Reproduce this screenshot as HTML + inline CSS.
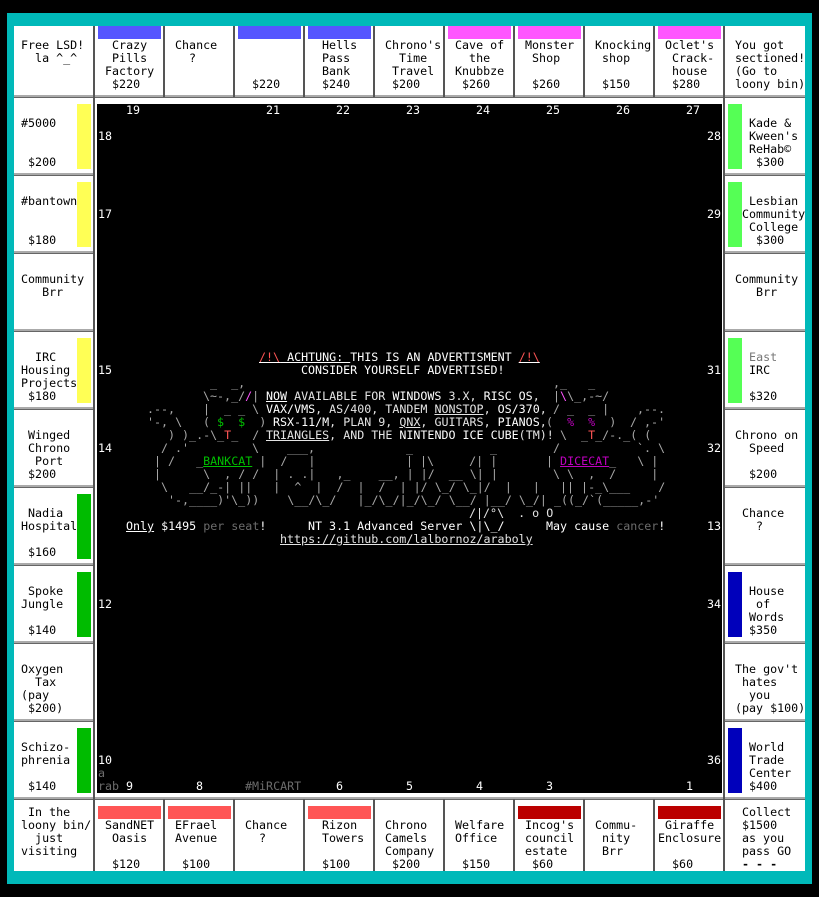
<!DOCTYPE html>
<html><head><meta charset="utf-8"><style>
body{margin:0;background:#000;width:819px;height:897px;position:relative;overflow:hidden}
.a{position:absolute}
.t{position:absolute;white-space:pre;font-family:"DejaVu Sans Mono","Liberation Mono",monospace;font-size:11.67px;line-height:13px;color:#000}
.w{color:#fff}.g{color:#a8a8a8}.d{color:#6c6c6c}.l{color:#e4e4e4}
.r{color:#ff5555}.m{color:#ff55ff}.gr{color:#00c000}.mg{color:#c000c0}.mr{color:#ff5555}
u{text-decoration:underline}
.vl{position:absolute;width:2px;background:#555}
.hl{position:absolute;height:2px;background:#aaa;border-bottom:1px solid #666}
</style></head><body>
<div class="a" style="left:7px;top:13px;width:805px;height:871px;background:#00b9b9"></div>
<div class="a" style="left:14px;top:26px;width:791px;height:845px;background:#fff"></div>
<div class="a" style="left:97px;top:104px;width:625px;height:689px;background:#000"></div>

<div class="hl" style="left:14px;top:95px;width:791px"></div>
<div class="hl" style="left:14px;top:797px;width:791px"></div>
<div class="hl" style="left:14px;top:173px;width:80px"></div>
<div class="hl" style="left:14px;top:251px;width:80px"></div>
<div class="hl" style="left:14px;top:329px;width:80px"></div>
<div class="hl" style="left:14px;top:407px;width:80px"></div>
<div class="hl" style="left:14px;top:485px;width:80px"></div>
<div class="hl" style="left:14px;top:563px;width:80px"></div>
<div class="hl" style="left:14px;top:641px;width:80px"></div>
<div class="hl" style="left:14px;top:719px;width:80px"></div>
<div class="hl" style="left:724px;top:173px;width:81px"></div>
<div class="hl" style="left:724px;top:251px;width:81px"></div>
<div class="hl" style="left:724px;top:329px;width:81px"></div>
<div class="hl" style="left:724px;top:407px;width:81px"></div>
<div class="hl" style="left:724px;top:485px;width:81px"></div>
<div class="hl" style="left:724px;top:563px;width:81px"></div>
<div class="hl" style="left:724px;top:641px;width:81px"></div>
<div class="hl" style="left:724px;top:719px;width:81px"></div>
<div class="vl" style="left:93px;top:26px;height:845px"></div>
<div class="vl" style="left:723px;top:26px;height:845px"></div>
<div class="vl" style="left:163px;top:26px;height:71px"></div>
<div class="vl" style="left:233px;top:26px;height:71px"></div>
<div class="vl" style="left:303px;top:26px;height:71px"></div>
<div class="vl" style="left:373px;top:26px;height:71px"></div>
<div class="vl" style="left:443px;top:26px;height:71px"></div>
<div class="vl" style="left:513px;top:26px;height:71px"></div>
<div class="vl" style="left:583px;top:26px;height:71px"></div>
<div class="vl" style="left:653px;top:26px;height:71px"></div>
<div class="vl" style="left:163px;top:799px;height:72px"></div>
<div class="vl" style="left:233px;top:799px;height:72px"></div>
<div class="vl" style="left:303px;top:799px;height:72px"></div>
<div class="vl" style="left:373px;top:799px;height:72px"></div>
<div class="vl" style="left:443px;top:799px;height:72px"></div>
<div class="vl" style="left:513px;top:799px;height:72px"></div>
<div class="vl" style="left:583px;top:799px;height:72px"></div>
<div class="vl" style="left:653px;top:799px;height:72px"></div>

<div class="a" style="left:98px;top:26px;width:63px;height:13px;background:#5555ff"></div>
<div class="a" style="left:238px;top:26px;width:63px;height:13px;background:#5555ff"></div>
<div class="a" style="left:308px;top:26px;width:63px;height:13px;background:#5555ff"></div>
<div class="a" style="left:448px;top:26px;width:63px;height:13px;background:#ff55ff"></div>
<div class="a" style="left:518px;top:26px;width:63px;height:13px;background:#ff55ff"></div>
<div class="a" style="left:658px;top:26px;width:63px;height:13px;background:#ff55ff"></div>
<div class="a" style="left:98px;top:806px;width:63px;height:13px;background:#ff5555"></div>
<div class="a" style="left:168px;top:806px;width:63px;height:13px;background:#ff5555"></div>
<div class="a" style="left:308px;top:806px;width:63px;height:13px;background:#ff5555"></div>
<div class="a" style="left:518px;top:806px;width:63px;height:13px;background:#bb0000"></div>
<div class="a" style="left:658px;top:806px;width:63px;height:13px;background:#bb0000"></div>
<div class="a" style="left:77px;top:104px;width:14px;height:65px;background:#ffff55"></div>
<div class="a" style="left:77px;top:182px;width:14px;height:65px;background:#ffff55"></div>
<div class="a" style="left:77px;top:338px;width:14px;height:65px;background:#ffff55"></div>
<div class="a" style="left:77px;top:494px;width:14px;height:65px;background:#00bb00"></div>
<div class="a" style="left:77px;top:572px;width:14px;height:65px;background:#00bb00"></div>
<div class="a" style="left:77px;top:728px;width:14px;height:65px;background:#00bb00"></div>
<div class="a" style="left:728px;top:104px;width:14px;height:65px;background:#55ff55"></div>
<div class="a" style="left:728px;top:182px;width:14px;height:65px;background:#55ff55"></div>
<div class="a" style="left:728px;top:338px;width:14px;height:65px;background:#55ff55"></div>
<div class="a" style="left:728px;top:572px;width:14px;height:65px;background:#0000bb"></div>
<div class="a" style="left:728px;top:728px;width:14px;height:65px;background:#0000bb"></div>

<div class="t" style="left:14px;top:39px"> Free LSD!
   la ^_^</div>
<div class="t" style="left:98px;top:39px">  Crazy
  Pills
 Factory
  $220</div>
<div class="t" style="left:168px;top:39px"> Chance
   ?</div>
<div class="t" style="left:238px;top:39px">


  $220</div>
<div class="t" style="left:308px;top:39px">  Hells
  Pass
  Bank
  $240</div>
<div class="t" style="left:378px;top:39px"> Chrono's
   Time
  Travel
  $200</div>
<div class="t" style="left:448px;top:39px"> Cave of
   the
 Knubbze
  $260</div>
<div class="t" style="left:518px;top:39px"> Monster
  Shop

  $260</div>
<div class="t" style="left:588px;top:39px"> Knocking
  shop

  $150</div>
<div class="t" style="left:658px;top:39px"> Oclet's
  Crack-
  house
  $280</div>
<div class="t" style="left:735px;top:39px">You got
sectioned!
(Go to
loony bin)</div>

<div class="t" style="left:14px;top:117px"> #5000


  $200</div>
<div class="t" style="left:14px;top:195px"> #bantown


  $180</div>
<div class="t" style="left:14px;top:273px"> Community
    Brr</div>
<div class="t" style="left:14px;top:351px">   IRC
 Housing
 Projects
  $180</div>
<div class="t" style="left:14px;top:429px">  Winged
  Chrono
   Port
  $200</div>
<div class="t" style="left:14px;top:507px">  Nadia
 Hospital

  $160</div>
<div class="t" style="left:14px;top:585px">  Spoke
 Jungle

  $140</div>
<div class="t" style="left:14px;top:663px"> Oxygen
   Tax
 (pay
  $200)</div>
<div class="t" style="left:14px;top:741px"> Schizo-
 phrenia

  $140</div>

<div class="t" style="left:735px;top:117px">  Kade &amp;
  Kween's
  ReHab©
   $300</div>
<div class="t" style="left:735px;top:195px">  Lesbian
 Community
  College
   $300</div>
<div class="t" style="left:735px;top:273px">Community
   Brr</div>
<div class="t" style="left:735px;top:351px">  <span style="color:#777">East</span>
  IRC

  $320</div>
<div class="t" style="left:735px;top:429px">Chrono on
  Speed

  $200</div>
<div class="t" style="left:735px;top:507px"> Chance
   ?</div>
<div class="t" style="left:735px;top:585px">  House
   of
  Words
  $350</div>
<div class="t" style="left:735px;top:663px">The gov't
 hates
  you
(pay $100)</div>
<div class="t" style="left:735px;top:741px">  World
  Trade
  Center
  $400</div>

<div class="t" style="left:14px;top:806px">  In the
 loony bin/
   just
 visiting</div>
<div class="t" style="left:98px;top:819px"> SandNET
  Oasis

  $120</div>
<div class="t" style="left:168px;top:819px"> EFrael
 Avenue

  $100</div>
<div class="t" style="left:238px;top:819px"> Chance
   ?</div>
<div class="t" style="left:308px;top:819px">  Rizon
  Towers

  $100</div>
<div class="t" style="left:378px;top:819px"> Chrono
 Camels
 Company
  $200</div>
<div class="t" style="left:448px;top:819px"> Welfare
 Office

  $150</div>
<div class="t" style="left:518px;top:819px"> Incog's
 council
 estate
  $60</div>
<div class="t" style="left:588px;top:819px"> Commu-
  nity
  Brr</div>
<div class="t" style="left:658px;top:819px"> Giraffe
Enclosure

  $60</div>
<div class="t" style="left:742px;top:806px">Collect
$1500
as you
pass GO
<b>- - -</b></div>

<div class="t w" style="left:126px;top:104px">19</div>
<div class="t w" style="left:266px;top:104px">21</div>
<div class="t w" style="left:336px;top:104px">22</div>
<div class="t w" style="left:406px;top:104px">23</div>
<div class="t w" style="left:476px;top:104px">24</div>
<div class="t w" style="left:546px;top:104px">25</div>
<div class="t w" style="left:616px;top:104px">26</div>
<div class="t w" style="left:686px;top:104px">27</div>
<div class="t w" style="left:98px;top:130px">18</div>
<div class="t w" style="left:98px;top:208px">17</div>
<div class="t w" style="left:98px;top:364px">15</div>
<div class="t w" style="left:98px;top:442px">14</div>
<div class="t w" style="left:98px;top:598px">12</div>
<div class="t w" style="left:98px;top:754px">10</div>
<div class="t d" style="left:98px;top:767px">a</div>
<div class="t d" style="left:98px;top:780px">rab</div>
<div class="t w" style="left:126px;top:780px">9</div>
<div class="t w" style="left:196px;top:780px">8</div>
<div class="t d" style="left:245px;top:780px">#MiRCART</div>
<div class="t w" style="left:336px;top:780px">6</div>
<div class="t w" style="left:406px;top:780px">5</div>
<div class="t w" style="left:476px;top:780px">4</div>
<div class="t w" style="left:546px;top:780px">3</div>
<div class="t w" style="left:686px;top:780px">1</div>
<div class="t w" style="left:707px;top:130px">28</div>
<div class="t w" style="left:707px;top:208px">29</div>
<div class="t w" style="left:707px;top:364px">31</div>
<div class="t w" style="left:707px;top:442px">32</div>
<div class="t w" style="left:707px;top:520px">13</div>
<div class="t w" style="left:707px;top:598px">34</div>
<div class="t w" style="left:707px;top:754px">36</div>

<div class="t w" style="left:259px;top:351px"><u><span class="r">/!\</span> ACHTUNG: </u>THIS IS AN ADVERTISMENT <u><span class="r">/!\</span></u></div>
<div class="t w" style="left:301px;top:364px">CONSIDER YOURSELF ADVERTISED!</div>

<div class="t g" style="left:203px;top:377px"> _  _,</div>
<div class="t g" style="left:553px;top:377px">,_   _</div>

<div class="t g" style="left:203px;top:390px">\~-,_/<span class="m">/</span>|</div>
<div class="t l" style="left:266px;top:390px"><u class="w">NOW</u> AVAILABLE FOR <span class="w">WINDOWS</span> 3.X, <span class="w">RISC OS</span>,</div>
<div class="t g" style="left:553px;top:390px">|<span class="m">\</span>\_,-~/</div>

<div class="t g" style="left:147px;top:403px">.--,</div>
<div class="t g" style="left:203px;top:403px">|  _ _ \</div>
<div class="t l" style="left:266px;top:403px"><span class="w">VAX/VMS</span>, AS/400, TANDEM <u>NONSTOP</u>, <span class="w">OS/370</span>,</div>
<div class="t g" style="left:553px;top:403px">/ _  _ |</div>
<div class="t g" style="left:637px;top:403px">,--.</div>

<div class="t g" style="left:147px;top:416px">'-, \</div>
<div class="t g" style="left:203px;top:416px">( <span class="gr">$</span>  <span class="gr">$</span>  )</div>
<div class="t l" style="left:273px;top:416px"><span class="w">RSX-11/M</span>, PLAN 9, <u>QNX</u>, GUITARS, <span class="w">PIANOS</span>,</div>
<div class="t g" style="left:546px;top:416px">(  <span class="mg">%</span>  <span class="mg">%</span>  )</div>
<div class="t g" style="left:630px;top:416px">/ ,-'</div>

<div class="t g" style="left:168px;top:429px">) )_.-\_<span class="mr">T</span>_  /</div>
<div class="t l" style="left:266px;top:429px"><u>TRIANGLES</u>, AND THE <span class="w">NINTENDO ICE CUBE</span>(TM)!</div>
<div class="t g" style="left:560px;top:429px">\  _<span class="mr">T</span>_/-._( (</div>

<div class="t g" style="left:161px;top:442px">/ .'</div>
<div class="t g" style="left:252px;top:442px">\</div>
<div class="t g" style="left:287px;top:442px">___,</div>
<div class="t g" style="left:406px;top:442px">_</div>
<div class="t g" style="left:490px;top:442px">_</div>
<div class="t g" style="left:553px;top:442px">/</div>
<div class="t g" style="left:637px;top:442px">`. \</div>

<div class="t g" style="left:154px;top:455px">| /   _<u class="gr">BANKCAT</u> |  /   |</div>
<div class="t g" style="left:406px;top:455px">| |\     /| |</div>
<div class="t g" style="left:546px;top:455px">| <u class="mg">DICECAT</u>_   \ |</div>

<div class="t g" style="left:154px;top:468px">|      \  , / /  | . .|   ,_    __, | |/  __ \| |</div>
<div class="t g" style="left:553px;top:468px">\ \  ,  /     |</div>

<div class="t g" style="left:161px;top:481px">\   __/_-| ||   |  ^  |  /  |  /  | |/ \_/ \_|/  |   |</div>
<div class="t g" style="left:560px;top:481px">|| |-_\___    /</div>

<div class="t g" style="left:168px;top:494px">'-,____)'\_))    \__/\_/   |_/\_/|_/\_/ \__/ |__/ \_/| _((_/`(_____,-'</div>

<div class="t l" style="left:469px;top:507px">/|/°\  . o O</div>

<div class="t w" style="left:126px;top:520px"><u>Only</u> $1495 <span class="d">per seat</span>!</div>
<div class="t w" style="left:308px;top:520px">NT 3.1 Advanced Server \|\_/</div>
<div class="t w" style="left:546px;top:520px">May cause <span class="d">cancer</span>!</div>
<div class="t l" style="left:280px;top:533px"><u>https://github.com/lalbornoz/araboly</u></div>
</body></html>
